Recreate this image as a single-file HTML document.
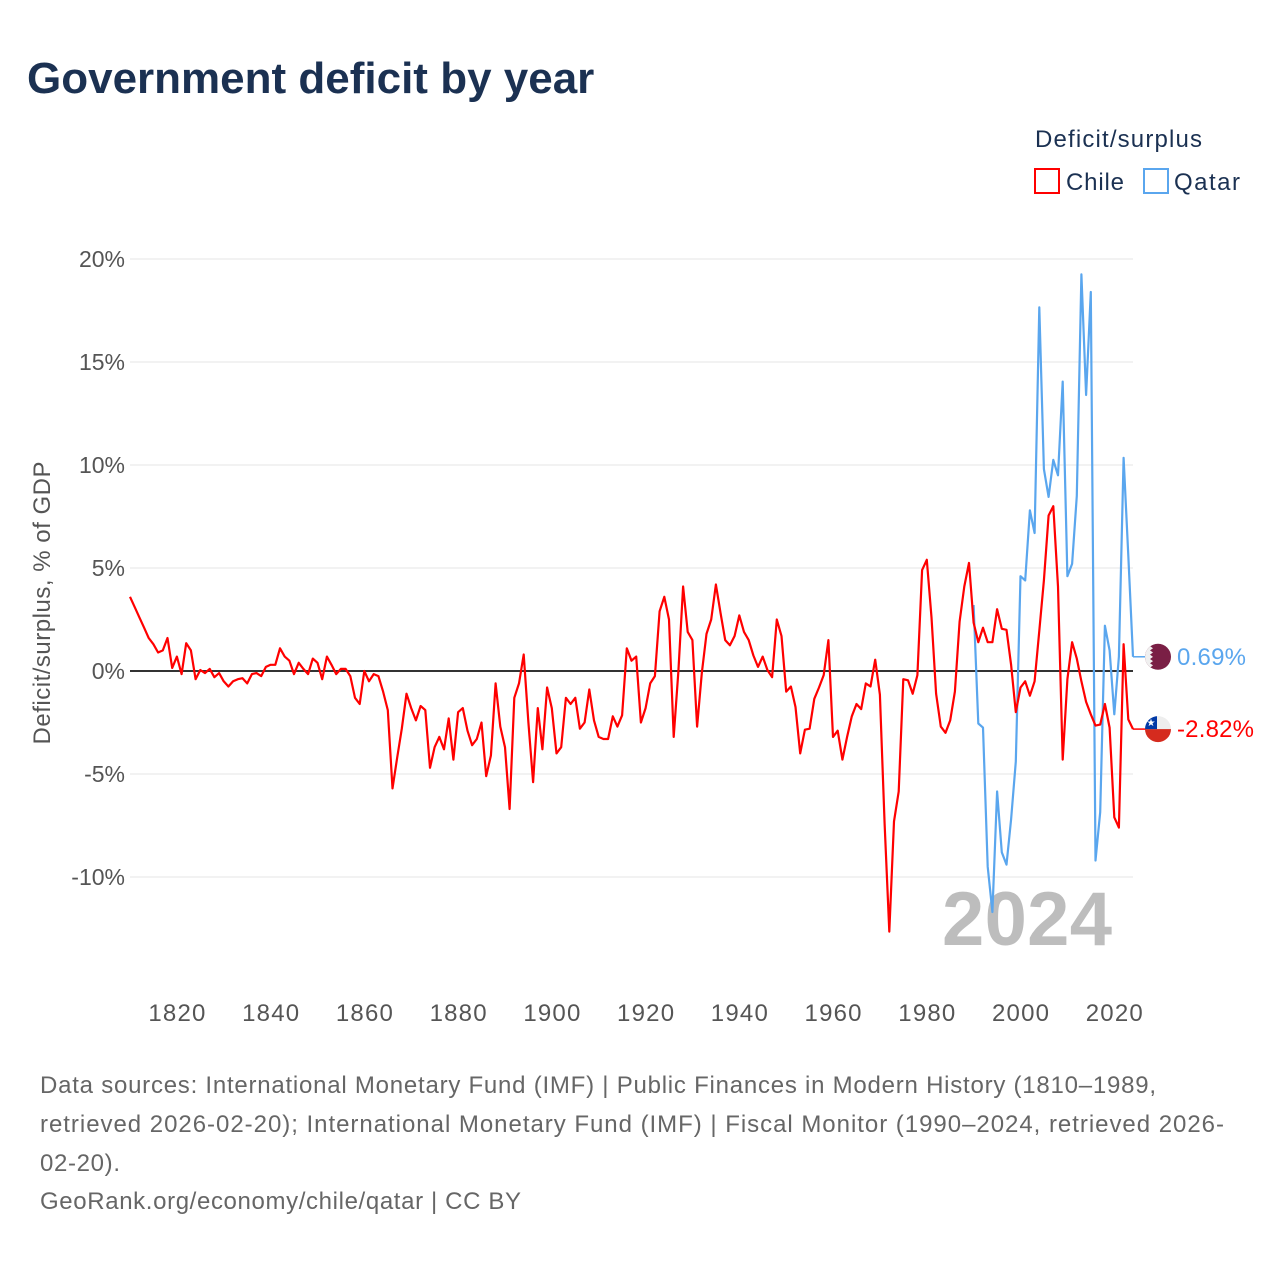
<!DOCTYPE html>
<html><head><meta charset="utf-8"><style>
body{margin:0;background:#fff;font-family:"Liberation Sans",sans-serif;}
#wrap{position:relative;width:1280px;height:1280px;overflow:hidden;}
</style></head><body>
<div id="wrap">
<svg id="chart" width="1280" height="1280" style="position:absolute;left:0;top:0">
<text x="27" y="93" font-size="44" font-weight="bold" fill="#1b3152">Government deficit by year</text>
<text x="1035" y="147" font-size="24" fill="#1b3152" textLength="167">Deficit/surplus</text>
<g><rect x="1035" y="169" width="24" height="24" fill="none" stroke="#ff0000" stroke-width="2"/><text x="1066" y="190" font-size="24" fill="#1b3152" textLength="58">Chile</text></g>
<g><rect x="1144" y="169" width="24" height="24" fill="none" stroke="#5aa6ee" stroke-width="2"/><text x="1174" y="190" font-size="24" fill="#1b3152" textLength="66">Qatar</text></g>
<text transform="translate(50,603) rotate(-90)" text-anchor="middle" font-size="24" fill="#555" textLength="283">Deficit/surplus, % of GDP</text>
<text x="1112" y="945" text-anchor="end" font-size="76" font-weight="bold" fill="#bdbdbd" textLength="170">2024</text>
<g id="grid"></g><g id="series"></g>
<text x="40" y="1093" font-size="24" fill="#666" textLength="1116">Data sources: International Monetary Fund (IMF) | Public Finances in Modern History (1810–1989,</text>
<text x="40" y="1132" font-size="24" fill="#666" textLength="1184">retrieved 2026-02-20); International Monetary Fund (IMF) | Fiscal Monitor (1990–2024, retrieved 2026-</text>
<text x="40" y="1171" font-size="24" fill="#666" textLength="80">02-20).</text>
<text x="40" y="1209" font-size="24" fill="#666" textLength="481">GeoRank.org/economy/chile/qatar | CC BY</text>
</svg>
</div>
<script>
const chileStart = 1810;
const chileValues = [3.6,3.1,2.6,2.1,1.6,1.3,0.9,1.0,1.6,0.15,0.7,-0.15,1.35,1.0,-0.4,0.05,-0.1,0.1,-0.3,-0.1,-0.5,-0.75,-0.5,-0.4,-0.35,-0.6,-0.15,-0.1,-0.25,0.2,0.3,0.3,1.1,0.7,0.5,-0.15,0.4,0.1,-0.15,0.6,0.4,-0.4,0.7,0.3,-0.15,0.1,0.1,-0.25,-1.3,-1.6,0,-0.5,-0.15,-0.25,-1.0,-1.9,-5.7,-4.2,-2.8,-1.1,-1.8,-2.4,-1.7,-1.9,-4.7,-3.7,-3.2,-3.8,-2.3,-4.3,-2.0,-1.8,-2.9,-3.6,-3.3,-2.5,-5.1,-4.1,-0.6,-2.7,-3.7,-6.7,-1.3,-0.6,0.8,-2.5,-5.4,-1.8,-3.8,-0.8,-1.8,-4.0,-3.7,-1.3,-1.6,-1.3,-2.8,-2.5,-0.9,-2.4,-3.2,-3.3,-3.3,-2.2,-2.7,-2.15,1.1,0.5,0.7,-2.5,-1.8,-0.6,-0.25,2.9,3.6,2.5,-3.2,0,4.1,1.9,1.5,-2.7,-0.1,1.8,2.5,4.2,2.8,1.5,1.25,1.7,2.7,1.9,1.5,0.75,0.2,0.7,0.05,-0.3,2.5,1.7,-1.0,-0.75,-1.75,-4.0,-2.85,-2.8,-1.35,-0.8,-0.2,1.5,-3.2,-2.9,-4.3,-3.2,-2.2,-1.6,-1.85,-0.6,-0.75,0.55,-1.15,-7.4,-12.65,-7.3,-5.85,-0.4,-0.45,-1.1,-0.2,4.9,5.4,2.6,-1.1,-2.7,-3.0,-2.4,-1.0,2.4,4.1,5.25,2.35,1.4,2.1,1.4,1.4,3.0,2.05,2.0,0.3,-2.0,-0.8,-0.5,-1.2,-0.5,1.95,4.4,7.55,8.0,4.1,-4.3,-0.4,1.4,0.6,-0.5,-1.5,-2.1,-2.65,-2.6,-1.6,-2.75,-7.1,-7.6,1.3,-2.35,-2.82];
const qatarStart = 1990;
const qatarValues = [3.2,-2.55,-2.75,-9.5,-11.7,-5.85,-8.8,-9.4,-7.2,-4.4,4.6,4.4,7.8,6.7,17.65,9.8,8.45,10.25,9.5,14.05,4.6,5.2,8.5,19.25,13.4,18.4,-9.2,-6.85,2.2,1.0,-2.1,0.7,10.35,5.6,0.69];
const yTicks = [20,15,10,5,0,-5,-10];
const yTickLabels = ["20%","15%","10%","5%","0%","-5%","-10%"];
const xTicks = [1820,1840,1860,1880,1900,1920,1940,1960,1980,2000,2020];
const endLabels = ["0.69%","-2.82%"];

const NS="http://www.w3.org/2000/svg";
const X0=130,X1=1133,Y1810=1810,Y2024=2024;
function xs(yr){return X0+(yr-Y1810)*(X1-X0)/(Y2024-Y1810);}
function ys(v){return 671-v*20.6;}
function mk(tag,attrs,parent){const e=document.createElementNS(NS,tag);for(const k in attrs)e.setAttribute(k,attrs[k]);parent.appendChild(e);return e;}
const grid=document.getElementById('grid'),ser=document.getElementById('series');
yTicks.forEach((t,i)=>{
  if(t!==0){const l=mk('line',{x1:X0,x2:X1,y1:ys(t),y2:ys(t),stroke:'#e6e6e6','stroke-width':1},grid);
  
  }
  const tx=mk('text',{x:125,y:ys(t)+8,'text-anchor':'end','font-size':23,fill:'#555'},grid);
  tx.textContent=yTickLabels[i];
  
  
});
xTicks.forEach(t=>{
  const tx=mk('text',{x:xs(t),y:1021,'text-anchor':'middle','font-size':24,fill:'#555',textLength:57},grid);
  tx.textContent=t;
  
  
});
const zl=mk('line',{x1:X0,x2:X1,y1:ys(0),y2:ys(0),stroke:'#333','stroke-width':2},grid);


function line(start,vals,color,name){
  const pts=vals.map((v,i)=>xs(start+i).toFixed(1)+','+ys(v).toFixed(1)).join(' ');
  const p=mk('polyline',{points:pts,fill:'none',stroke:color,'stroke-width':2.2,'stroke-linejoin':'round'},ser);
  
  
  const last=vals[vals.length-1];
  const c=mk('line',{x1:xs(start+vals.length-1),x2:1146,y1:ys(last),y2:ys(last),stroke:color,'stroke-width':1.5},ser);
  
  
}
line(qatarStart,qatarValues,'#5aa6ee','qatar-line');
line(chileStart,chileValues,'#ff0000','chile-line');
const qy=ys(qatarValues[qatarValues.length-1]), cy=ys(chileValues[chileValues.length-1]);
const qy2=Math.min(qy,cy-60), cy2=cy;
const qf=mk('g',{},ser);


const qc=mk('clipPath',{id:'qc'},qf);mk('circle',{cx:1158,cy:qy2,r:13},qc);
const qg=mk('g',{'clip-path':'url(#qc)'},qf);
mk('rect',{x:1140,y:qy2-15,width:40,height:30,fill:'#7a1f45'},qg);
let zz='1140,'+(qy2-15);for(let i=0;i<7;i++){zz+=' 1150,'+(qy2-15+i*4.3)+' 1153,'+(qy2-15+i*4.3+2.15)+' 1150,'+(qy2-15+(i+1)*4.3);}zz+=' 1140,'+(qy2+15);
mk('polygon',{points:zz,fill:'#f0f0f0'},qg);
const ql=mk('text',{x:1177,y:qy2+8,'font-size':24,fill:'#5aa6ee',textLength:69},ser);
ql.textContent=endLabels[0];


const cf=mk('g',{},ser);


const cc=mk('clipPath',{id:'cc'},cf);mk('circle',{cx:1158,cy:cy2,r:13},cc);
const cg=mk('g',{'clip-path':'url(#cc)'},cf);
mk('rect',{x:1144,y:cy2-14,width:28,height:14,fill:'#eeeeee'},cg);
mk('rect',{x:1144,y:cy2,width:28,height:14,fill:'#d52b1e'},cg);
mk('rect',{x:1144,y:cy2-14,width:13,height:14,fill:'#0039a6'},cg);
const st=mk('text',{x:1151,y:cy2-3,'font-size':10,fill:'#fff','text-anchor':'middle'},cg);st.textContent='★';
const cl=mk('text',{x:1177,y:cy2+8,'font-size':24,fill:'#ff0000',textLength:77},ser);
cl.textContent=endLabels[1];


</script>
</body></html>
